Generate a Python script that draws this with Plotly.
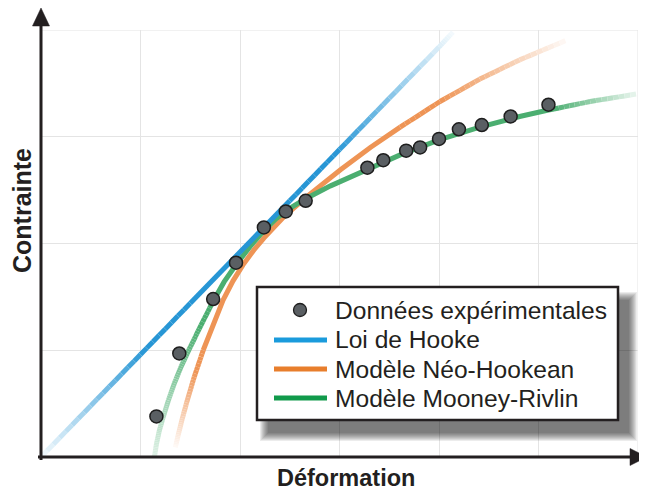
import plotly.graph_objects as go

# ---------------- data ----------------
strain_exp = [1.16, 1.39, 1.73, 1.96, 2.24, 2.46, 2.66, 3.28, 3.44, 3.67, 3.81, 4.00, 4.20, 4.43, 4.72, 5.10]
stress_exp = [0.38, 0.97, 1.48, 1.82, 2.15, 2.30, 2.40, 2.71, 2.78, 2.87, 2.90, 2.98, 3.07, 3.11, 3.19, 3.30]

hooke_x = [0.0, 0.5, 1.0, 1.5, 2.0, 2.5, 3.0, 3.5, 4.0, 4.14]
hooke_y = [0.0, 0.48, 0.96, 1.44, 1.92, 2.40, 2.88, 3.36, 3.84, 3.98]

neo_x = [1.35, 1.38, 1.42, 1.47, 1.54, 1.63, 1.73, 1.83, 1.93, 2.03, 2.14, 2.24, 2.45, 2.70, 3.01, 3.31, 3.61, 4.01, 4.41, 4.81, 5.27]
neo_y = [0.09, 0.21, 0.36, 0.53, 0.75, 1.00, 1.25, 1.47, 1.65, 1.80, 1.94, 2.05, 2.26, 2.46, 2.69, 2.90, 3.09, 3.33, 3.54, 3.72, 3.90]

mr_x = [1.14, 1.16, 1.19, 1.23, 1.28, 1.34, 1.41, 1.49, 1.59, 1.73, 1.84, 1.96, 2.10, 2.24, 2.36, 2.50, 2.66, 2.91, 3.28, 3.61, 4.00, 4.41, 4.81, 5.10, 5.52, 5.98]
mr_y = [0.00, 0.12, 0.25, 0.38, 0.53, 0.69, 0.85, 1.01, 1.20, 1.46, 1.64, 1.80, 1.97, 2.12, 2.23, 2.33, 2.42, 2.54, 2.70, 2.83, 2.97, 3.09, 3.19, 3.25, 3.33, 3.40]

grid_x = [1, 2, 3, 4, 5, 6]
grid_y = [1, 2, 3, 4]

legend_labels = ["Données expérimentales", "Loi de Hooke", "Modèle Néo-Hookean", "Modèle Mooney-Rivlin"]

# ---------------- layout geometry ----------------
# the page places the figure 8px from the top-left corner, so all
# reference pixel positions are shifted by OFF
OFF = 8
W, H = 647 - OFF, 492 - OFF
L, R, T, B = 41, 638, 30, 457          # reference pixel positions
XMAX, YMAX = 6.0, 4.0
SX = (R - L) / XMAX
SY = (B - T) / YMAX
INK = "#231F20"
FONT = "Liberation Sans, Arial, sans-serif"


def px(x, y):
    """reference pixel -> paper coords"""
    return (x - L) / (R - L), (B - y) / (B - T)


def blend(hexcol, a):
    h = hexcol.lstrip("#")
    r, g, b = int(h[0:2], 16), int(h[2:4], 16), int(h[4:6], 16)
    r = round(255 + (r - 255) * a)
    g = round(255 + (g - 255) * a)
    b = round(255 + (b - 255) * a)
    return f"rgb({r},{g},{b})"


def faded_traces(xs, ys, color, fade_in, fade_out, a_start, a_end, width=5, sub=8):
    s = [0.0]
    for i in range(1, len(xs)):
        dx = (xs[i] - xs[i - 1]) * SX
        dy = (ys[i] - ys[i - 1]) * SY
        s.append(s[-1] + (dx * dx + dy * dy) ** 0.5)
    S = s[-1]

    def alpha(v):
        a = 1.0
        if fade_in > 0:
            a = min(a, a_start + (1 - a_start) * v / fade_in)
        if fade_out > 0:
            a = min(a, a_end + (1 - a_end) * (S - v) / fade_out)
        return max(0.0, min(1.0, a))

    traces = []
    run_x, run_y = [], []
    for i in range(len(xs) - 1):
        full = alpha(s[i]) >= 1 and alpha(s[i + 1]) >= 1
        if full:
            if not run_x:
                run_x, run_y = [xs[i]], [ys[i]]
            run_x.append(xs[i + 1])
            run_y.append(ys[i + 1])
            continue
        if run_x:
            traces.append(go.Scatter(x=run_x, y=run_y, mode="lines",
                                     line=dict(color=color, width=width),
                                     showlegend=False, hoverinfo="skip"))
            run_x, run_y = [], []
        for k in range(sub):
            t0, t1 = k / sub, (k + 1) / sub
            xa = xs[i] + (xs[i + 1] - xs[i]) * t0
            xb = xs[i] + (xs[i + 1] - xs[i]) * t1
            ya = ys[i] + (ys[i + 1] - ys[i]) * t0
            yb = ys[i] + (ys[i + 1] - ys[i]) * t1
            sm = s[i] + (s[i + 1] - s[i]) * (t0 + t1) / 2
            traces.append(go.Scatter(x=[xa, xb], y=[ya, yb], mode="lines",
                                     line=dict(color=blend(color, alpha(sm)), width=width),
                                     showlegend=False, hoverinfo="skip"))
    if run_x:
        traces.append(go.Scatter(x=run_x, y=run_y, mode="lines",
                                 line=dict(color=color, width=width),
                                 showlegend=False, hoverinfo="skip"))
    return traces


BLUE, ORANGE, GREEN = "#2796D5", "#EE9455", "#4BAE70"

fig = go.Figure()
for tr in faded_traces(neo_x, neo_y, ORANGE, 80, 140, 0.05, 0.05):
    fig.add_trace(tr)
for tr in faded_traces(mr_x, mr_y, GREEN, 140, 85, 0.18, 0.12):
    fig.add_trace(tr)
for tr in faded_traces(hooke_x, hooke_y, BLUE, 150, 170, 0.05, 0.05):
    fig.add_trace(tr)

fig.add_trace(go.Scatter(
    x=strain_exp, y=stress_exp, mode="markers",
    marker=dict(size=13, color="#5A5F63", line=dict(color="#1E1E1E", width=1.5)),
    showlegend=False, hoverinfo="skip"))

shapes = []
shapes.append(dict(type="rect", xref="x", yref="y", x0=0, x1=XMAX, y0=0, y1=YMAX,
                   line=dict(color="#E4E4E4", width=1), layer="below"))

# axes with arrows
x0p, y0p = px(38, 457)
x1p, _ = px(634, 457)
shapes.append(dict(type="line", xref="paper", yref="paper", x0=x0p, y0=y0p, x1=x1p, y1=y0p,
                   line=dict(color=INK, width=3), layer="above"))
xa, ya0 = px(41, 460)
_, ya1 = px(41, 24)
shapes.append(dict(type="line", xref="paper", yref="paper", x0=xa, y0=ya0, x1=xa, y1=ya1,
                   line=dict(color=INK, width=3), layer="above"))


def path(points):
    parts = []
    for i, (x, y) in enumerate(points):
        p = px(x, y)
        parts.append(("M" if i == 0 else "L") + f"{p[0]:.5f},{p[1]:.5f}")
    return " ".join(parts) + " Z"


shapes.append(dict(type="path", xref="paper", yref="paper",
                   path=path([(41, 8), (49.5, 26), (32.5, 26)]),
                   fillcolor=INK, line=dict(color=INK, width=0.5), layer="above"))
shapes.append(dict(type="path", xref="paper", yref="paper",
                   path=path([(647, 457), (630, 448.5), (630, 465.5)]),
                   fillcolor=INK, line=dict(color=INK, width=0.5), layer="above"))

# legend box with soft shadow
bx0, by0, bx1, by1 = 257, 287, 618, 420
offx, offy = 9, 11
n = 9
for i in range(n):
    g = 10 - i
    q0 = px(bx0 + offx - g + 4, by1 + offy + g)
    q1 = px(bx1 + offx + g, by0 + offy - g + 4)
    shapes.append(dict(type="rect", xref="paper", yref="paper",
                       x0=q0[0], y0=q0[1], x1=q1[0], y1=q1[1],
                       fillcolor="rgba(0,0,0,0.075)", line=dict(width=0), layer="above"))
q0 = px(bx0, by1)
q1 = px(bx1, by0)
shapes.append(dict(type="rect", xref="paper", yref="paper",
                   x0=q0[0], y0=q0[1], x1=q1[0], y1=q1[1],
                   fillcolor="white", line=dict(color=INK, width=2.5), layer="above"))

rows_y = [310, 340, 369, 398]
c0 = px(300 - 6.5, rows_y[0] + 6.5)
c1 = px(300 + 6.5, rows_y[0] - 6.5)
shapes.append(dict(type="circle", xref="paper", yref="paper",
                   x0=c0[0], y0=c0[1], x1=c1[0], y1=c1[1],
                   fillcolor="#5A5F63", line=dict(color="#1E1E1E", width=1.3), layer="above"))
leg_cols = ["#1A9BDC", "#E87E2C", "#119A4B"]
for yy, col in zip(rows_y[1:], leg_cols):
    a0 = px(274, yy)
    a1 = px(327, yy)
    shapes.append(dict(type="line", xref="paper", yref="paper",
                       x0=a0[0], y0=a0[1], x1=a1[0], y1=a1[1],
                       line=dict(color=col, width=5), layer="above"))

annotations = []
for yy, lab in zip(rows_y, legend_labels):
    p = px(333, yy)
    annotations.append(dict(xref="paper", yref="paper", x=p[0], y=p[1], text=lab,
                            showarrow=False, xanchor="left", yanchor="middle",
                            font=dict(family=FONT, size=24.6, color=INK)))

p = px(346, 478)
annotations.append(dict(xref="paper", yref="paper", x=p[0], y=p[1], text="<b>Déformation</b>",
                        showarrow=False, xanchor="center", yanchor="middle",
                        font=dict(family=FONT, size=23.5, color=INK)))
p = px(22, 211)
annotations.append(dict(xref="paper", yref="paper", x=p[0], y=p[1], text="<b>Contrainte</b>",
                        showarrow=False, xanchor="center", yanchor="middle", textangle=-90,
                        font=dict(family=FONT, size=25, color=INK)))

fig.update_layout(
    width=W, height=H,
    margin=dict(l=L - OFF, r=647 - R, t=T - OFF, b=492 - B, pad=0),
    paper_bgcolor="white", plot_bgcolor="white",
    showlegend=False,
    shapes=shapes, annotations=annotations,
    xaxis=dict(range=[0, XMAX], tickvals=grid_x, showticklabels=False, ticks="",
               showgrid=True, gridcolor="#E4E4E4", gridwidth=1, zeroline=False, showline=False,
               fixedrange=True),
    yaxis=dict(range=[0, YMAX], tickvals=grid_y, showticklabels=False, ticks="",
               showgrid=True, gridcolor="#E4E4E4", gridwidth=1, zeroline=False, showline=False,
               fixedrange=True),
)

fig.write_html("out.html")
